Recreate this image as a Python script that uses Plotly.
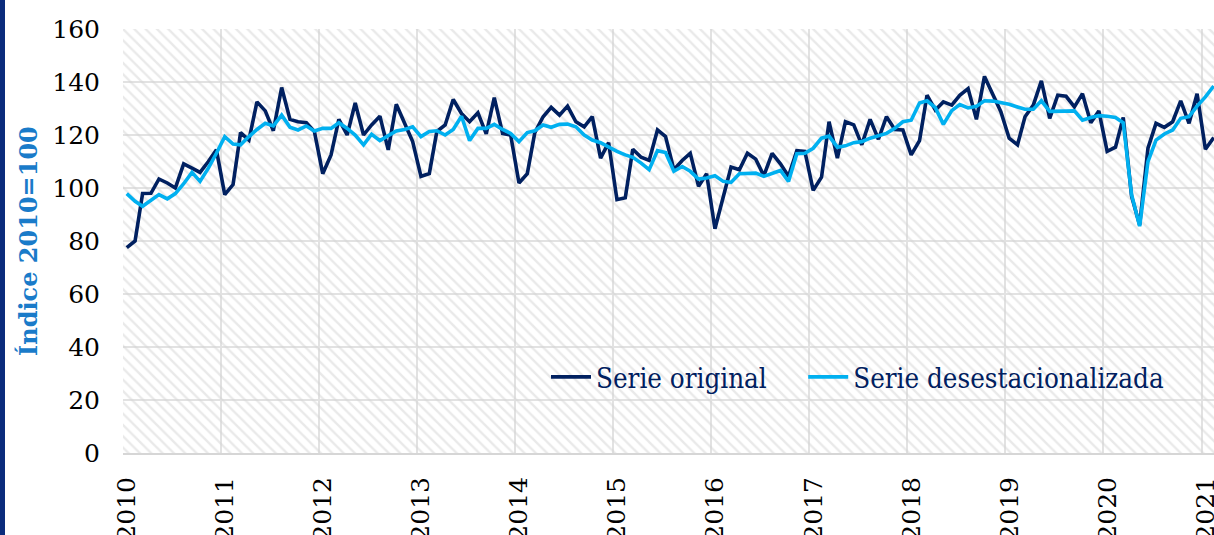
import pandas as pd
import plotly.graph_objects as go

start_month = "2010-01-01"

serie_original = [
    77.5, 80.0, 97.9, 98.0, 103.4, 101.9, 100.0, 109.1, 107.5, 105.9, 110.0, 114.4,
    97.5, 101.3, 120.9, 118.1, 132.5, 129.1, 121.6, 137.9, 125.9, 125.0, 124.6, 121.3,
    105.4, 112.5, 125.9, 120.0, 132.1, 120.0, 123.8, 127.1, 114.4, 131.6, 124.4, 117.5,
    104.4, 105.4, 121.3, 123.8, 133.4, 128.1, 125.0, 128.4, 120.4, 134.1, 120.6, 120.0,
    101.9, 105.4, 120.9, 126.9, 130.4, 127.5, 130.9, 125.0, 123.1, 126.9, 111.3, 117.1,
    95.6, 96.3, 114.6, 111.6, 110.4, 121.9, 119.4, 106.9, 110.4, 113.1, 100.6, 105.4,
    84.6, 96.3, 107.9, 106.9, 113.1, 110.9, 104.6, 113.1, 109.1, 104.4, 114.1, 113.8,
    99.1, 104.1, 125.0, 111.3, 125.0, 123.8, 116.3, 125.9, 118.4, 126.9, 122.1, 121.9,
    112.5, 117.9, 135.0, 129.4, 132.5, 131.3, 135.0, 137.5, 125.9, 142.1, 135.6, 128.8,
    118.8, 116.3, 126.9, 131.3, 140.4, 126.3, 135.0, 134.6, 130.6, 135.6, 124.6, 129.1,
    113.8, 115.4, 126.6, 96.9, 86.0, 115.0, 124.4, 122.9, 125.0, 132.9, 124.4, 135.6,
    114.6, 119.0,
]

serie_desest = [
    97.9, 95.0, 93.1, 95.4, 97.5, 95.9, 97.9, 101.6, 105.9, 102.5, 107.5, 113.1,
    119.4, 116.6, 116.3, 119.4, 122.1, 124.4, 123.4, 127.5, 122.9, 121.9, 123.4, 121.5,
    122.5, 122.5, 124.6, 122.5, 120.0, 116.3, 120.3, 117.9, 119.6, 121.5, 122.1, 123.1,
    119.4, 121.3, 121.6, 120.0, 122.1, 127.1, 117.9, 122.5, 122.5, 124.0, 122.1, 120.6,
    117.5, 120.9, 121.6, 123.8, 122.9, 124.0, 124.1, 123.1, 120.0, 118.1, 117.1, 115.4,
    113.8, 112.5, 111.6, 109.4, 106.9, 114.1, 113.4, 106.3, 108.1, 106.3, 103.4, 103.8,
    104.6, 102.5, 102.1, 105.4, 105.6, 105.6, 104.4, 105.4, 106.6, 102.5, 112.9, 113.1,
    115.0, 118.8, 119.6, 115.4, 115.9, 117.1, 117.5, 118.8, 119.6, 120.6, 122.5, 125.0,
    125.6, 132.1, 132.9, 130.3, 124.0, 129.2, 131.5, 130.2, 130.8, 132.9, 132.8, 132.2,
    131.6, 130.6, 129.7, 129.7, 132.9, 128.9, 128.8, 129.0, 129.1, 125.6, 126.6, 127.3,
    127.1, 126.6, 124.6, 97.5, 85.6, 110.0, 118.1, 120.4, 121.9, 126.3, 126.9, 130.9,
    134.4, 138.5,
]

y_ticks = [0, 20, 40, 60, 80, 100, 120, 140, 160]
legend_names = ["Serie original", "Serie desestacionalizada"]
y_title = "Índice 2010=100"

# month midpoints (categories)
months = pd.date_range(start_month, periods=len(serie_original), freq="MS") + pd.Timedelta(days=14)

W, H = 1214, 535
ML, MR, MT, MB = 123, 0, 29, 82
PW = W - ML - MR
PH = H - MT - MB

x_start, x_end = "2010-01-01", "2021-02-16"

fig = go.Figure()

# hatched plot background
fig.add_trace(go.Scatter(
    x=["2009-12-01", "2021-06-01", "2021-06-01", "2009-12-01", "2009-12-01"],
    y=[0, 0, 160, 160, 0],
    mode="lines", line=dict(width=0), fill="toself",
    fillcolor="rgba(0,0,0,0)",
    fillpattern=dict(shape="\\", fgcolor="#d4d4d4", bgcolor="rgba(255,255,255,0)",
                     size=8, solidity=0.3),
    showlegend=False, hoverinfo="skip",
))

fig.add_trace(go.Scatter(
    x=months, y=serie_original, mode="lines",
    name=legend_names[0] + "\u00a0\u00a0\u00a0\u00a0",
    line=dict(color="#002060", width=3.6),
))
fig.add_trace(go.Scatter(
    x=months, y=serie_desest, mode="lines", name=legend_names[1],
    line=dict(color="#00B0F0", width=3.6),
))

tick_font = dict(family="DejaVu Serif", size=25, color="#000000")

fig.update_layout(
    width=W, height=H,
    margin=dict(l=ML, r=MR, t=MT, b=MB, pad=0),
    paper_bgcolor="white", plot_bgcolor="white",
    showlegend=True,
    legend=dict(
        orientation="h", x=(546 - ML) / PW, y=(453 - 377) / PH,
        xanchor="left", yanchor="middle",
        bgcolor="rgba(0,0,0,0)",
        font=dict(family="DejaVu Serif Condensed, DejaVu Serif", size=27.5, color="#002060"),
        itemwidth=40,
    ),
    xaxis=dict(
        type="date", range=[x_start, x_end], automargin=False,
        tick0="2010-01-01", dtick="M12", tickformat="%Y",
        tickangle=-90, tickfont=tick_font,
        showgrid=True, gridcolor="#e2e2e2", gridwidth=1.5,
        showline=True, linecolor="#d6d6d6", linewidth=2,
        ticks="", ticklabelstandoff=12, ticklabelshift=4,
        ticklabeloverflow="allow",
        zeroline=False,
    ),
    yaxis=dict(
        range=[0, 160], tickvals=y_ticks, tickfont=tick_font, automargin=False,
        showgrid=True, gridcolor="#e2e2e2", gridwidth=1.5,
        zeroline=False, showline=False, ticks="",
        ticklabelstandoff=22,
    ),
    annotations=[dict(
        text="<b>" + y_title + "</b>", xref="paper", yref="paper",
        x=(28 - ML) / PW, y=0.5, xanchor="center", yanchor="middle",
        textangle=-90, showarrow=False,
        font=dict(family="DejaVu Serif", size=24, color="#1a7bc9"),
    )],
    shapes=[dict(
        type="rect", xref="paper", yref="paper",
        x0=(0 - ML) / PW, x1=(5 - ML) / PW,
        y0=-MB / PH, y1=1 + MT / PH,
        fillcolor="#0b2c7c", line=dict(width=0), layer="above",
    )],
)

fig.write_html("out.html", config={"displayModeBar": False},
               post_script="document.body.style.margin='0';")
